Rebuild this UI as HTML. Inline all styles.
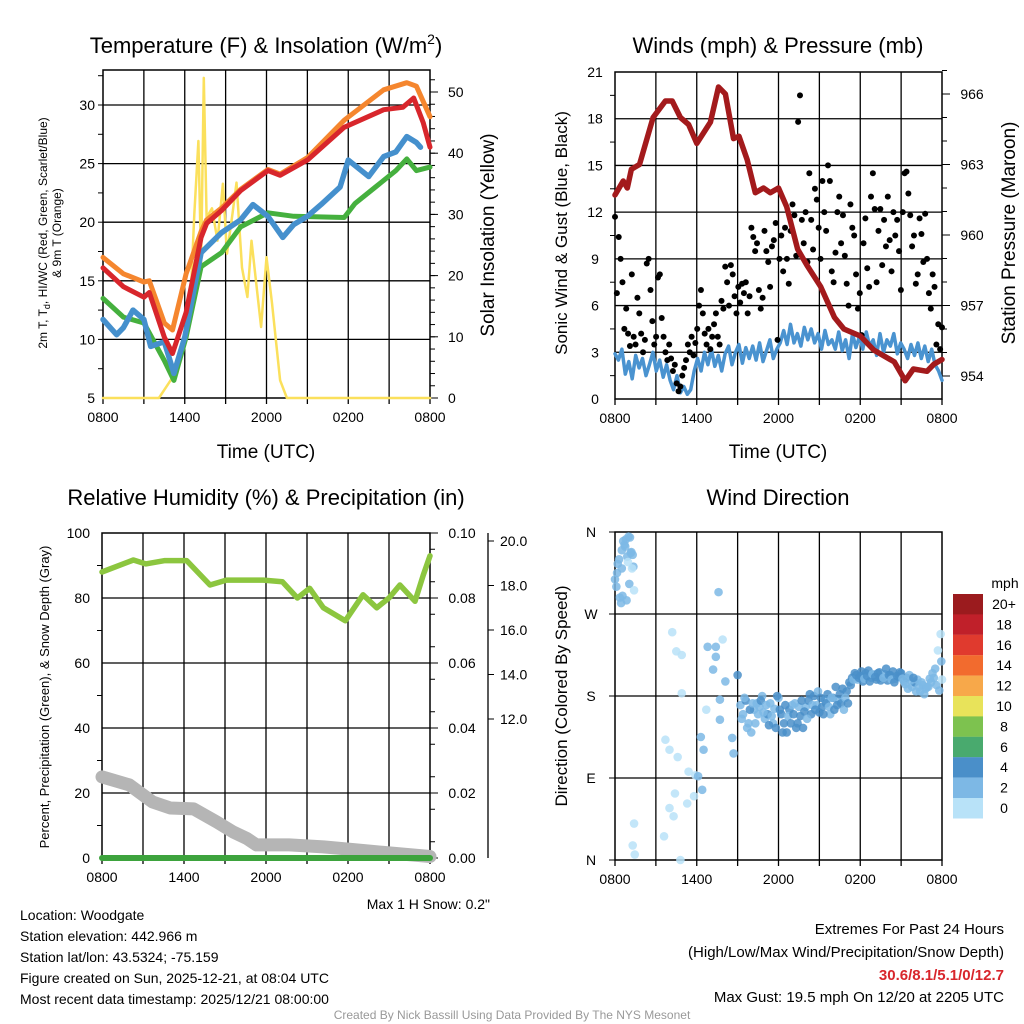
<!DOCTYPE html>
<html><head><meta charset="utf-8"><style>
body{margin:0;background:#fff}svg{display:block}
text{font-family:"Liberation Sans",sans-serif;fill:#000}
</style></head><body>
<svg id="s" width="1024" height="1024" viewBox="0 0 1024 1024">
<rect width="1024" height="1024" fill="#fff"/>
</svg>
<script>
// ---------- DATA ----------
const redHours=[0,1.5,3,3.4,4.5,5.1,6.1,7.2,7.6,8.7,10.1,12.1,13,15,17.7,20.6,22,22.8,23.5,24];
const tempRed=[16.1,14.5,13.6,14,10.2,8.8,12.3,18.7,19.9,21,22.7,24.4,24,25.3,28.1,29.6,29.8,30.6,28.5,26.4];
const orangeHours=[0,1.5,3,3.4,4.5,5.1,6.1,7.2,7.6,8.7,10.1,12.1,13,15,17.7,20.6,22.3,23,24];
const tempOrange=[17,15.6,14.9,15,11.4,10.8,15.6,19.2,20.2,21.2,22.8,24.5,24.1,25.5,28.7,31.3,31.9,31.6,29];
const greenHours=[0,1.5,3,4.5,5.2,6.1,7.2,8.7,10.1,12.1,14,17.7,18.5,20,21.5,22.3,23,24];
const tempGreen=[13.5,11.9,11.4,8.2,6.5,10.2,16.2,17.4,19.6,20.8,20.5,20.4,21.6,23,24.4,25.4,24.4,24.7];
const blueHours=[0,1,1.5,2.2,3,3.5,4.5,5.2,6,7.2,8.7,10.1,11,12.1,13.2,14,15,16,17.4,18,19.5,20.6,21.5,22.3,23,23.3];
const tempBlue=[11.7,10.4,11,12.5,11.7,9.4,9.8,7.1,10.2,17.4,19.1,20.2,21.5,20.5,18.7,19.8,20.5,21.5,23,25.3,23.9,25.6,26,27.3,26.8,26.4];
const solarHours=[0,4.1,5,6.2,6.5,6.7,7.0,7.2,7.4,7.6,8.0,8.4,8.8,9.1,9.5,9.8,10.2,10.6,10.9,11.6,12,12.4,13,13.5,24];
const solarVals=[0,0,3,10.6,20,30,42,22,52.3,29.5,31,25.7,35,23.6,30,35.2,21.3,16.5,25.7,11.6,23,15.5,2.9,0,0];
const presHours=[0,0.6,0.9,1.2,1.8,2.8,3.7,4.2,4.8,5.4,6,7,7.6,8.1,8.7,9.1,9.7,10.3,10.9,11.4,12,12.6,13.4,14.1,15.1,16.1,16.8,18,19,20.5,21.3,21.9,22.9,23.4,24];
const presVals=[961.7,962.3,962,962.8,963,965,965.7,965.7,965,964.7,963.9,964.8,966.3,966,964.1,964.2,963.2,961.8,962,961.8,962,961.2,959.4,958.7,957.8,956.5,956,955.7,955.1,954.6,953.8,954.3,954.2,954.5,954.7];
const windVals=[2.9,2.5,3.2,1.6,2.4,1.3,2.8,2,2.6,1.5,2.2,3,1.8,2.5,1.4,2.2,1.2,0.6,1.5,0.4,0.8,0.3,0.6,1.8,2.6,1.8,3,2.2,3.2,2.1,2.8,1.8,2.9,3.4,2.2,3,3.5,2.3,3.3,2.6,3.4,2.5,3.6,2.4,3.1,3.8,2.6,3.2,3.6,4.4,3.5,4.8,3.6,4.2,3.4,4.6,3.8,4.5,3.6,4.2,3.2,4.4,3.5,3.8,3.2,4.3,3.1,3.8,2.6,4.2,3.3,4,3.2,4.3,3.4,3.8,2.8,4.2,3,3.8,3.4,4.2,2.9,3.6,3.2,2.6,3.5,2.8,3.6,2.6,3.4,2.4,3.2,2.2,1.8,1.2];
const gustVals=[11.7,6.8,10.4,9.0,7.5,4.5,5.8,4.2,3.4,8.0,4.0,3.5,6.5,5.5,4.2,3.0,3.8,8.7,9.0,7.0,5.0,3.5,4.0,7.8,8.0,5.2,4.0,3.0,2.5,3.5,2.6,1.8,2.2,1.0,0.5,0.8,1.5,2.0,2.5,3.5,3.0,4.0,2.8,3.6,4.5,6.0,7.0,5.5,4.2,3.5,4.5,3.2,4.0,4.8,5.5,4.0,3.5,6.3,5.8,8.5,7.5,6.0,8.6,8.0,6.6,5.5,7.2,6.2,7.4,6.8,7.5,5.5,6.6,11.0,10.4,9.5,10.0,7.0,5.8,6.5,10.8,9.5,8.8,7.2,9.8,10.2,11.3,3.8,9.0,10.5,8.2,11.0,9.0,7.4,10.8,12.5,11.8,9.2,17.8,19.5,11.5,10.0,12.0,8.8,14.5,11.5,9.6,13.5,12.8,11.0,9.0,14.0,12.0,10.8,15.0,14.0,8.2,7.5,9.4,12.0,13.0,10.0,11.8,9.2,7.4,6.0,12.5,11.0,10.5,8.0,5.8,6.8,4.1,10.0,11.6,8.4,7.2,13.0,14.5,12.2,7.5,10.8,12.2,8.6,11.5,9.8,13.0,10.2,8.2,12.0,10.5,11.5,9.5,7.0,12.0,14.5,14.6,13.2,11.8,9.8,10.5,7.4,8.0,11.6,10.6,8.8,11.9,9.0,6.8,5.8,8.0,7.2,3.5,4.8,3.2,4.6];
const rhHours=[0,2.3,3.2,4.6,6.2,7.9,9.1,11.8,13.2,14.3,15.2,16.2,17.8,19.1,20.1,21,21.8,22.9,23.5,24];
const rhVals=[88,91.7,90.5,91.5,91.5,84,85.5,85.5,85,80,83,77,73,81,77,80,84,79,87,93];
const snowHours=[0,2,3.7,5,6.7,8.4,9.6,10.6,11.3,13.7,16.2,18.6,21,24];
const snowVals=[9.40,9.04,8.27,8.0,7.96,7.37,6.92,6.63,6.34,6.34,6.25,6.12,5.98,5.82];
const precipHours=[0,24];
const precipVals=[0,0];
const dirHours=[0,0.1,0.2,0.3,0.35,0.5,0.5,0.6,0.7,0.8,0.9,1.0,1.1,1.2,1.3,1.35,0.45,0.75,0.95,1.05,1.25,0.15,0.55,0.85,1.15,1.4,1.4,1.3,1.45,
4.2,4.5,4.9,4.9,3.7,4.0,4.6,5.4,5.9,4.4,4.0,4.3,3.6,4.8,5.3,5.8,6.3,6.5,6.1,6.4,6.7,6.8,7.4,7.4,7.2,7.9,7.6,8.1,9.0,7.7,7.7,8.6,8.7,
9.2,9.4,9.6,9.8,10,10.2,10.4,10.6,10.8,11,11.2,11.4,11.6,11.8,12,12.2,12.4,12.6,12.8,13,13.2,13.4,13.6,13.8,14,14.2,14.4,14.6,14.8,15,15.2,15.4,15.6,15.8,16,16.2,16.4,16.6,16.8,17,
9.3,9.5,9.7,9.9,10.1,10.3,10.5,10.7,10.9,11.1,11.3,11.5,11.7,11.9,12.1,12.3,12.5,12.7,12.9,13.1,13.3,13.5,13.7,13.9,14.1,14.3,14.5,14.7,14.9,15.1,15.3,15.5,15.7,15.9,16.1,16.3,16.5,16.7,16.9,17.1,
17.2,17.4,17.6,17.8,18,18.2,18.4,18.6,18.8,19,19.2,19.4,19.6,19.8,20,20.2,20.4,20.6,20.8,21,21.2,21.4,21.6,21.8,22,22.2,22.4,22.6,22.8,23,23.2,23.4,23.6,23.8,24,
17.3,17.5,17.7,17.9,18.1,18.3,18.5,18.7,18.9,19.1,19.3,19.5,19.7,19.9,20.1,20.3,20.5,20.7,20.9,21.1,21.3,21.5,21.7,21.9,22.1,22.3,22.5,22.7,22.9,23.1,23.3,23.5,23.7,23.9,23.95];
const dirDeg=[308,300,325,330,288,340,320,350,346,352,333,355,354,338,335,322,282,344,327,303,320,315,290,285,337,296,40,16,6,
250,229,225,183,132,121,113,97,93,73,57,48,26,0,62,70,135,121,92,77,165,234,234,223,209,242,294,196,203,176,154,134,117,
170,160,175,150,140,165,172,168,180,155,160,172,150,145,178,160,150,140,165,170,172,150,158,145,168,175,160,180,170,162,168,176,182,160,178,190,175,172,165,185,
155,178,145,165,172,150,160,175,162,170,148,158,166,180,165,140,170,158,150,160,145,168,175,163,155,182,170,165,185,178,160,172,168,178,165,170,182,188,178,172,
195,200,205,198,202,196,205,208,200,203,198,206,200,204,197,203,207,199,201,205,196,200,203,190,195,198,185,192,188,190,195,200,192,186,198,
192,198,203,200,207,199,202,196,204,201,205,197,200,210,203,198,195,202,206,199,193,188,197,200,185,190,195,182,190,199,205,210,230,248,218];
const dirSpeed=[3,3,3,2,3,3,2,3,3,3,3,3,3,3,2,3,3,3,1,3,1,3,3,3,3,1,1,1,1,
1,1,1,1,1,1,1,1,1,1,1,1,1,1,1,1,3,3,3,3,1,3,3,3,3,1,3,2,4,2,2,3,3,
2,3,4,2,3,3,2,3,2,3,4,2,3,4,3,4,4,4,4,3,3,4,4,4,3,4,4,4,3,4,4,3,4,3,4,4,3,4,3,4,
3,2,3,4,3,2,3,4,3,2,4,3,3,4,4,4,4,3,4,4,4,3,4,4,3,4,3,4,3,4,4,4,3,3,4,4,4,4,3,4,
4,4,4,3,4,4,4,4,3,4,4,4,4,3,4,4,4,3,4,4,3,4,3,3,4,3,2,3,3,2,3,2,3,2,1,
4,3,4,4,4,3,4,4,3,4,4,4,3,4,4,3,4,4,4,3,3,2,3,4,2,3,3,2,3,3,2,3,1,1,2];
const speedLabels=["20+","18","16","14","12","10","8","6","4","2","0"];
const speedColors=["#9b1b1e","#c0202a","#e03a2e","#f26b2e","#f7a84a","#e8e35a","#7dc24f","#49aa6e","#4a8fc9","#7db8e5","#b8e2f8"];
const timeLabels=["0800","1400","2000","0200","0800"];

// ---------- HELPERS ----------
const S=document.getElementById('s');const NS='http://www.w3.org/2000/svg';
function el(tag,a,parent){const e=document.createElementNS(NS,tag);for(const k in a)e.setAttribute(k,a[k]);(parent||S).appendChild(e);return e;}
function txt(x,y,s,size,anchor,extra){const e=el('text',Object.assign({x:x,y:y,'font-size':size,'text-anchor':anchor||'middle'},extra||{}));e.textContent=s;return e;}
function lin(d0,d1,r0,r1){return v=>r0+(v-d0)/(d1-d0)*(r1-r0);}
function poly(xs,ys,fx,fy,stroke,w,name){const p=xs.map((h,i)=>fx(h).toFixed(1)+','+fy(ys[i]).toFixed(1)).join(' ');
 const e=el('polyline',{points:p,fill:'none',stroke:stroke,'stroke-width':w,'stroke-linejoin':'round','stroke-linecap':'round'});
 
 return e;}
function ticks(x,ys,len){ys.forEach(y=>el('line',{x1:x,x2:x+len,y1:y,y2:y,stroke:'#000','stroke-width':1}));}
function frame(x0,x1,y0,y1,fy,yt,name){
 const g=el('g',{});
 
 
 const fx=lin(0,24,x0,x1);
 for(let h=3;h<24;h+=3)el('line',{x1:fx(h),x2:fx(h),y1:y0,y2:y1,stroke:'#000','stroke-width':1.3},g);
 yt.forEach(v=>el('line',{x1:x0,x2:x1,y1:fy(v),y2:fy(v),stroke:'#000','stroke-width':1.3},g));
 el('rect',{x:x0,y:y0,width:x1-x0,height:y1-y0,fill:'none',stroke:'#000','stroke-width':1.5},g);
 for(let h=0;h<=24;h+=3)el('line',{x1:fx(h),x2:fx(h),y1:y1,y2:y1+6,stroke:'#000','stroke-width':1.3},g);
 timeLabels.forEach((l,i)=>{const t=txt(fx(i*6),y1+24,l,14);
  
  });
 return fx;}

// ---------- PANEL 1 ----------
{const x0=103,x1=430,y0=70,y1=398;
 const fy=lin(5,30,y1,105), fs=lin(0,50,y1,92);
 const fx=frame(x0,x1,y0,y1,fy,[10,15,20,25,30],'temperature-panel');
 const lm=[];for(let v=7.5;v<33;v+=2.5)lm.push(fy(v));ticks(x0,lm,-5);
 const rm=[];for(let v=2;v<54;v+=2)rm.push(fs(v));ticks(x1,rm,5);
 [5,10,15,20,25,30].forEach(v=>{txt(x0-8,fy(v)+5,v,14,'end');});
 [0,10,20,30,40,50].forEach(v=>{el('line',{x1:x1,x2:x1+8,y1:fs(v),y2:fs(v),stroke:'#000'});txt(x1+18,fs(v)+5,v,14,'start');});
 poly(solarHours,solarVals,fx,fs,'#fbe05c',2.5,'solar-insolation-line');
 poly(orangeHours,tempOrange,fx,fy,'#f5862e',5,'temp-9m-line');
 poly(greenHours,tempGreen,fx,fy,'#45b03e',5,'dewpoint-line');
 poly(blueHours,tempBlue,fx,fy,'#4590cd',5.5,'windchill-line');
 poly(redHours,tempRed,fx,fy,'#d8262c',5,'temp-2m-line');
 const t=txt(266,53,'',22);t.innerHTML='Temperature (F) &amp; Insolation (W/m<tspan font-size="14" dy="-9">2</tspan><tspan dy="9">)</tspan>';
 
 
 txt(266,458,'Time (UTC)',19);
 const a=txt(0,0,'',12,'middle',{transform:'translate(47,233) rotate(-90)'});a.innerHTML='2m T, T<tspan font-size="9" dy="3">d</tspan><tspan dy="-3">, HI/WC (Red, Green, Scarlet/Blue)</tspan>';
 
 
 txt(0,0,'& 9m T (Orange)',12,'middle',{transform:'translate(61,233) rotate(-90)'});
 txt(0,0,'Solar Insolation (Yellow)',19,'middle',{transform:'translate(494,235) rotate(-90)'});
}
// ---------- PANEL 2 ----------
{const x0=615,x1=942,y0=72,y1=399;
 const fy=lin(0,21,y1,y0), fp=lin(954,966,376,94);
 const fx=frame(x0,x1,y0,y1,fy,[3,6,9,12,15,18],'wind-pressure-panel');
 const lm=[];for(let v=1.5;v<21;v+=3)lm.push(fy(v));ticks(x0,lm,-5);
 const rm=[];for(let v=954;v<=967;v+=1)rm.push(fp(v));ticks(x1,rm,5);
 [0,3,6,9,12,15,18,21].forEach(v=>txt(x0-20,fy(v)+5,v,14,'middle'));
 [954,957,960,963,966].forEach(v=>{el('line',{x1:x1,x2:x1+8,y1:fp(v),y2:fp(v),stroke:'#000'});txt(x1+30,fp(v)+5,v,14,'middle');});
 poly(windVals.map((v,i)=>i*24/(windVals.length-1)),windVals,fx,fy,'#4a93d0',3.5,'sonic-wind-line');
 gustVals.forEach((v,i)=>{const c=el('circle',{cx:fx(i*24/(gustVals.length-1)),cy:fy(v),r:3,fill:'#000'});
  
  });
 poly(presHours,presVals,fx,fp,'#a31a1c',5.5,'pressure-line');
 txt(778,53,'Winds (mph) & Pressure (mb)',22);
 txt(778,458,'Time (UTC)',19);
 txt(0,0,'Sonic Wind & Gust (Blue, Black)',17,'middle',{transform:'translate(567,233) rotate(-90)'});
 txt(0,0,'Station Pressure (Maroon)',19,'middle',{transform:'translate(1015,233) rotate(-90)'});
}
// ---------- PANEL 3 ----------
{const x0=102,x1=430,y0=533,y1=858;
 const fy=lin(0,100,y1,y0), fsn=lin(12,20,719,541);
 const fx=frame(x0,x1,y0,y1,fy,[20,40,60,80],'humidity-panel');
 const lm=[];for(let v=10;v<100;v+=20)lm.push(fy(v));ticks(x0,lm,-5);
 const rm=[];for(let v=5;v<100;v+=10)rm.push(fy(v));ticks(x1,rm,5);
 [0,20,40,60,80,100].forEach(v=>txt(x0-12,fy(v)+5,v,14,'end'));
 [0,0.02,0.04,0.06,0.08,0.10].forEach(v=>{el('line',{x1:x1,x2:x1+8,y1:fy(v*1000),y2:fy(v*1000),stroke:'#000'});txt(x1+32,fy(v*1000)+5,v.toFixed(2),14,'middle');});
 el('line',{x1:488,x2:488,y1:533,y2:858,stroke:'#000','stroke-width':1.3});
 [12,14,16,18,20].forEach(v=>{el('line',{x1:488,x2:494,y1:fsn(v),y2:fsn(v),stroke:'#000'});txt(500,fsn(v)+5,v.toFixed(1),14,'start');});
 poly(snowHours,snowVals,fx,fsn,'#b5b5b5',13,'snow-depth-line');
 poly(precipHours,precipVals,fx,v=>fy(v*1000),'#3da33d',6,'precipitation-line');
 poly(rhHours,rhVals,fx,fy,'#8cc63f',5.5,'relative-humidity-line');
 txt(266,505,'Relative Humidity (%) & Precipitation (in)',22);
 txt(0,0,'Percent, Precipitation (Green), & Snow Depth (Gray)',13,'middle',{transform:'translate(49,697) rotate(-90)'});
 txt(490,909,'Max 1 H Snow: 0.2"',14,'end');
}
// ---------- PANEL 4 ----------
{const x0=615,x1=942,y0=532,y1=860;
 const fy=lin(0,360,y1,y0);
 const fx=frame(x0,x1,y0,y1,fy,[90,180,270],'wind-direction-panel');
 ['N','E','S','W','N'].forEach((l,i)=>{el('line',{x1:x0-6,x2:x0,y1:fy(i*90),y2:fy(i*90),stroke:'#000'});txt(x0-24,fy(i*90)+5,l,14,'middle');});
 const idx=s=>Math.max(0,Math.min(10,10-Math.floor(s/2)));
 dirHours.forEach((h,i)=>{const c=el('circle',{cx:fx(h),cy:fy(dirDeg[i]),r:4.3,fill:speedColors[idx(dirSpeed[i])],'fill-opacity':0.85});
  
  });
 txt(778,505,'Wind Direction',22);
 txt(0,0,'Direction (Colored By Speed)',17,'middle',{transform:'translate(567,696) rotate(-90)'});
 txt(1005,588,'mph',14,'middle');
 speedColors.forEach((c,i)=>{const r=el('rect',{x:953,y:594+i*20.4,width:30,height:20.5,fill:c});
  
  
  txt(1004,609+i*20.4,speedLabels[i],14,'middle');});
}
// ---------- FOOTER ----------
['Location: Woodgate','Station elevation: 442.966 m','Station lat/lon: 43.5324; -75.159','Figure created on Sun, 2025-12-21, at 08:04 UTC','Most recent data timestamp: 2025/12/21 08:00:00'].forEach((s,i)=>txt(20,920+i*21,s,14,'start'));
txt(1004,934,'Extremes For Past 24 Hours',15,'end');
txt(1004,957,'(High/Low/Max Wind/Precipitation/Snow Depth)',15,'end');
const ex=txt(1004,980,'30.6/8.1/5.1/0/12.7',15,'end',{'font-weight':'bold'});ex.style.fill='#d8262c';


txt(1004,1002,'Max Gust: 19.5 mph On 12/20 at 2205 UTC',15,'end');
const cr=txt(512,1019,'Created By Nick Bassill Using Data Provided By The NYS Mesonet',12,'middle');cr.style.fill='#999';


</script>
</body></html>
